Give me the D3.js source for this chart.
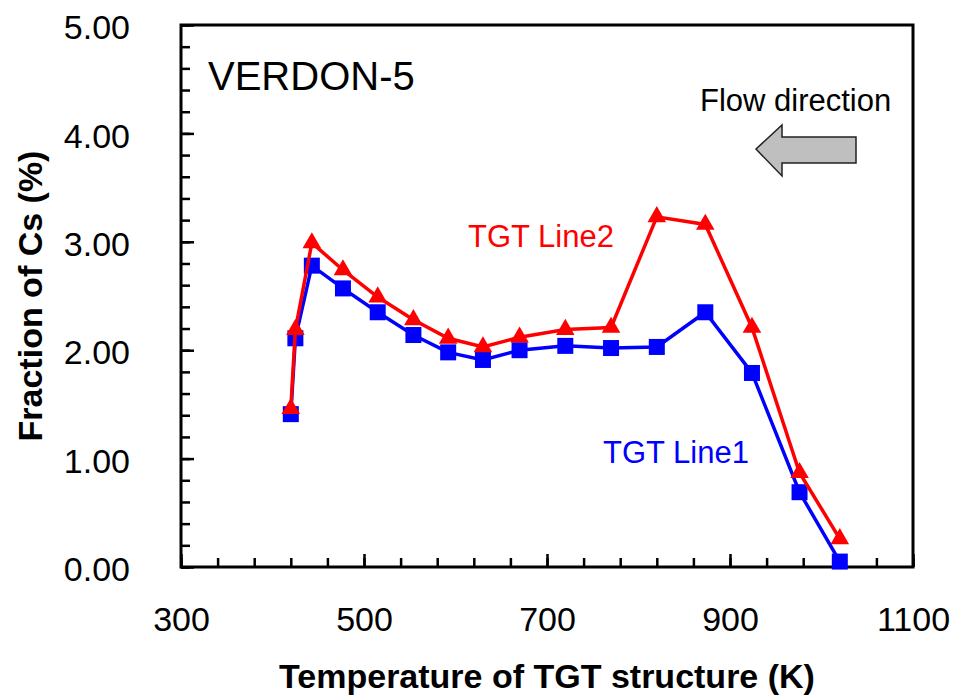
<!DOCTYPE html>
<html>
<head>
<meta charset="utf-8">
<script src="https://cdn.jsdelivr.net/npm/d3@7"></script>
<style>
  html, body { margin: 0; padding: 0; background: #fff; }
  svg { display: block; }
  text { font-family: "Liberation Sans", Arial, sans-serif; }
</style>
</head>
<body>
<svg id="chart" width="960" height="698"></svg>
<script>
// ---- data ----
const temperatures = [420, 425, 443, 477, 515, 554, 592, 630, 670, 720, 770, 820, 873, 924, 976, 1020];
const line1Values = [1.41, 2.11, 2.78, 2.57, 2.35, 2.14, 1.98, 1.91, 2.00, 2.04, 2.02, 2.03, 2.35, 1.79, 0.69, 0.05];
const line2Values = [1.46, 2.19, 2.99, 2.74, 2.49, 2.28, 2.11, 2.03, 2.12, 2.19, 2.21, 3.23, 3.16, 2.21, 0.87, 0.26];
const xMajorTicks = [300, 500, 700, 900, 1100];
const yMajorTicks = [0, 1, 2, 3, 4, 5];
const seriesNames = ["TGT Line1", "TGT Line2"];

(function () {
// ---- layout ----
const svg = d3.select("#chart");
const pL = 181, pR = 913, pT = 25, pB = 567;

const x = d3.scaleLinear().domain([300, 1100]).range([pL, pR]);
const y = d3.scaleLinear().domain([0, 5]).range([pB, pT]);

const xMinor = d3.range(300, 1101, 40);
const yMinor = d3.range(0, 5.001, 0.2).map(v => +v.toFixed(2));
const font = '"Liberation Sans", Arial, sans-serif';

// minor ticks
svg.append("g").attr("transform", `translate(0,${pB})`)
  .call(d3.axisBottom(x).tickValues(xMinor).tickSizeInner(-9).tickSizeOuter(0).tickFormat(""))
  .call(g => g.select(".domain").remove())
  .call(g => g.selectAll("line").attr("stroke", "#000").attr("stroke-width", 2.5));
svg.append("g").attr("transform", `translate(${pL},0)`)
  .call(d3.axisLeft(y).tickValues(yMinor).tickSizeInner(-9).tickSizeOuter(0).tickFormat(""))
  .call(g => g.select(".domain").remove())
  .call(g => g.selectAll("line").attr("stroke", "#000").attr("stroke-width", 2.5));

// major ticks + labels
svg.append("g").attr("transform", `translate(0,${pB})`)
  .call(d3.axisBottom(x).tickValues(xMajorTicks).tickSizeInner(-13).tickSizeOuter(0).tickPadding(40).tickFormat(d3.format("d")))
  .call(g => g.select(".domain").remove())
  .call(g => g.selectAll("line").attr("stroke", "#000").attr("stroke-width", 2.5))
  .call(g => g.selectAll("text").attr("font-size", 34).attr("fill", "#000").style("font-family", font));
svg.append("g").attr("transform", `translate(${pL},0)`)
  .call(d3.axisLeft(y).tickValues(yMajorTicks).tickSizeInner(-13).tickSizeOuter(0).tickPadding(51).tickFormat(d3.format(".2f")))
  .call(g => g.select(".domain").remove())
  .call(g => g.selectAll("line").attr("stroke", "#000").attr("stroke-width", 2.5))
  .call(g => g.selectAll("text").attr("font-size", 34).attr("fill", "#000").attr("dy", "0.4em").style("font-family", font));

// frame
svg.append("rect").attr("x", pL).attr("y", pT)
  .attr("width", pR - pL).attr("height", pB - pT)
  .attr("fill", "none").attr("stroke", "#000").attr("stroke-width", 3);

// axis titles
svg.append("text").attr("x", (pL + pR) / 2).attr("y", 688)
  .attr("text-anchor", "middle").attr("font-size", 34).attr("font-weight", "bold").attr("fill", "#000")
  .text("Temperature of TGT structure (K)");
svg.append("text").attr("transform", `translate(42,${(pT + pB) / 2}) rotate(-90)`)
  .attr("text-anchor", "middle").attr("font-size", 34).attr("font-weight", "bold").attr("fill", "#000")
  .text("Fraction of Cs (%)");

// series
const line = d3.line().x(d => x(d[0])).y(d => y(d[1]));
const s1 = temperatures.map((t, i) => [t, line1Values[i]]);
const s2 = temperatures.map((t, i) => [t, line2Values[i]]);

svg.append("path").datum(s1).attr("d", line).attr("fill", "none").attr("stroke", "#0000ff").attr("stroke-width", 3.5);
svg.selectAll("rect.sq").data(s1).enter().append("rect").attr("class", "sq")
  .attr("x", d => x(d[0]) - 8).attr("y", d => y(d[1]) - 8)
  .attr("width", 16).attr("height", 16).attr("fill", "#0000ff");

svg.append("path").datum(s2).attr("d", line).attr("fill", "none").attr("stroke", "#ff0000").attr("stroke-width", 3.5);
const tri = d3.symbol().type(d3.symbolTriangle).size(150);
svg.selectAll("path.tri").data(s2).enter().append("path").attr("class", "tri")
  .attr("d", tri).attr("transform", d => `translate(${x(d[0])},${y(d[1])})`).attr("fill", "#ff0000");

// annotations
svg.append("text").attr("x", 208).attr("y", 90).attr("font-size", 40).attr("fill", "#000").text("VERDON-5");
svg.append("text").attr("x", 468).attr("y", 247).attr("font-size", 31).attr("fill", "#ff0000").text(seriesNames[1]);
svg.append("text").attr("x", 603).attr("y", 463).attr("font-size", 31).attr("fill", "#0000ff").text(seriesNames[0]);
svg.append("text").attr("x", 700).attr("y", 111).attr("font-size", 31).attr("fill", "#000").text("Flow direction");

// flow arrow
const arrowPts = [[756,149],[782,125],[782,137],[856,137],[856,163],[782,163],[782,176]];
svg.append("path").attr("d", d3.line()(arrowPts) + "Z")
  .attr("fill", "#bfbfbf").attr("stroke", "#222").attr("stroke-width", 1.5);
})();
</script>
</body>
</html>
